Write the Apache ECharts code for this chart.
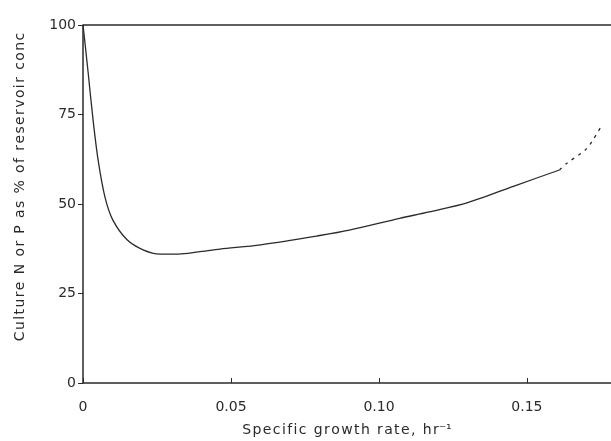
<!DOCTYPE html>
<html>
<head>
<meta charset="utf-8">
<script src="https://cdn.jsdelivr.net/npm/echarts@6/dist/echarts.min.js"></script>
<style>
  html, body { margin: 0; padding: 0; background: #fff; }
  #chart { width: 611px; height: 441px; }
</style>
</head>
<body>
<div id="chart"></div>
<script>
// growth rate (hr^-1) and culture conc (% of reservoir)
const rateSolid = [0, 0.0008, 0.0017, 0.0034, 0.0051, 0.0074, 0.0101, 0.0149, 0.0203, 0.026, 0.0322, 0.0389, 0.0463, 0.06, 0.08, 0.09, 0.107, 0.117, 0.13, 0.1466, 0.161];
const concSolid = [100, 94, 87, 73.5, 62.3, 52, 45.5, 40, 37.2, 36, 36, 36.6, 37.4, 38.6, 41.2, 42.7, 46, 47.8, 50.4, 55.3, 59.5];
const rateDashed = [0.161, 0.1635, 0.1696, 0.1723, 0.1753];
const concDashed = [59.5, 61.4, 65, 67.9, 72];
const xTicks = [0, 0.05, 0.10, 0.15];
const yTicks = [0, 25, 50, 75, 100];

const zip = (a, b) => a.map((v, i) => [v, b[i]]);
const ink = '#2a2a2a';
const font = 'DejaVu Sans';
// the scanned labels are letter-spaced; spread with hair spaces
const spaced = s => s.split('').join('\u200A');

const chart = echarts.init(document.getElementById('chart'));
chart.setOption({
  animation: false,
  backgroundColor: '#fff',
  grid: { left: 83, right: 0, top: 25, bottom: 58, outerBoundsMode: 'none' },
  // y title sits a bit above the axis centre in the original
  graphic: [{
    type: 'text',
    x: 20,
    y: 187,
    rotation: Math.PI / 2,
    style: {
      text: spaced('Culture N or P as % of reservoir conc'),
      fill: ink,
      font: '14px "DejaVu Sans"',
      align: 'center',
      verticalAlign: 'middle'
    }
  }],
  xAxis: {
    type: 'value',
    min: 0,
    max: 0.1784,
    interval: 0.05,
    name: spaced('Specific growth rate, hr') + '\u207B\u00B9',
    nameLocation: 'middle',
    nameGap: 40,
    nameTextStyle: { color: ink, fontFamily: font, fontSize: 14 },
    axisLine: { lineStyle: { color: ink, width: 1.5 } },
    axisTick: { inside: true, length: 5, lineStyle: { color: ink } },
    splitLine: { show: false },
    axisLabel: {
      color: ink, fontFamily: font, fontSize: 14, margin: 17, showMaxLabel: false,
      formatter: v => xTicks.some(t => Math.abs(t - v) < 1e-9) ? (v === 0 ? '0' : v.toFixed(2)) : ''
    }
  },
  yAxis: {
    type: 'value',
    min: 0,
    max: 100,
    interval: 25,
    axisLine: { show: true, lineStyle: { color: ink, width: 1.5 } },
    axisTick: { show: true, length: 5, lineStyle: { color: ink } },
    splitLine: { show: false },
    axisLabel: {
      color: ink, fontFamily: font, fontSize: 14, margin: 7,
      formatter: v => yTicks.includes(v) ? String(v) : ''
    }
  },
  series: [
    {
      type: 'line',
      data: zip(rateSolid, concSolid),
      smooth: 0.3,
      showSymbol: false,
      lineStyle: { color: ink, width: 1.3 },
      markLine: {
        silent: true,
        symbol: 'none',
        label: { show: false },
        lineStyle: { color: ink, width: 1.5, type: 'solid' },
        data: [{ yAxis: 100 }]
      }
    },
    {
      type: 'line',
      data: zip(rateDashed, concDashed),
      smooth: 0.3,
      showSymbol: false,
      lineStyle: { color: ink, width: 1.3, type: [3, 5] }
    }
  ]
});
</script>
</body>
</html>
